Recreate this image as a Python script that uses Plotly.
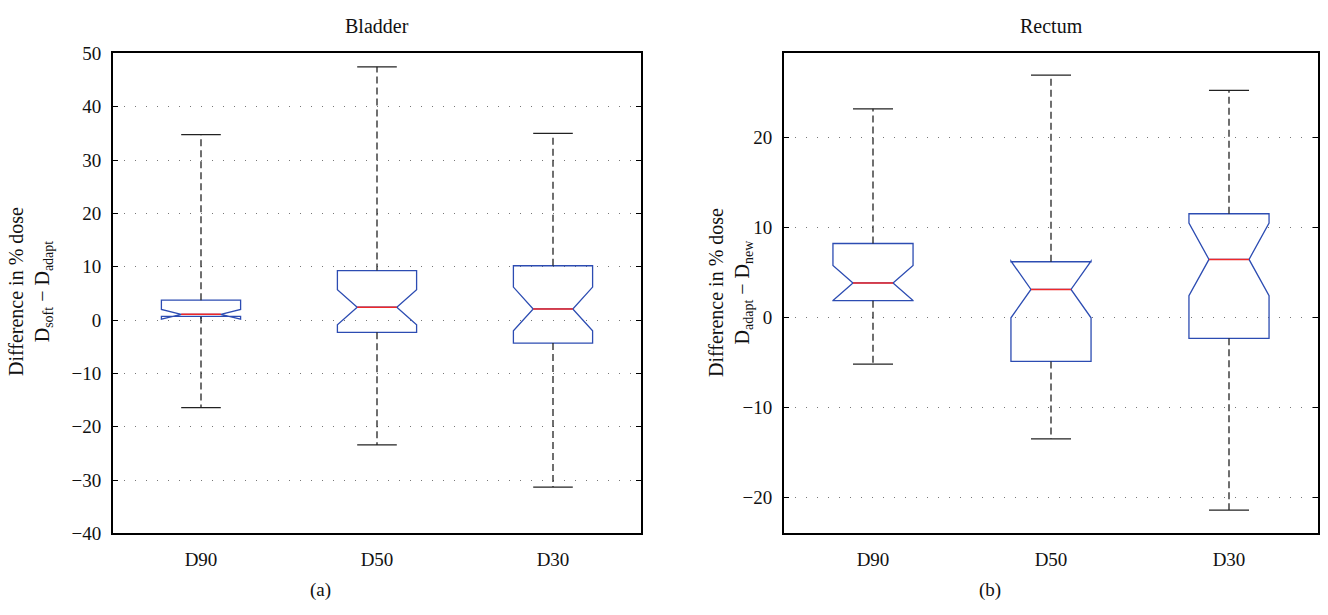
import plotly.graph_objects as go

categories = ["D90", "D50", "D30"]
positions = [1, 2, 3]

# Bladder (a): D_soft - D_adapt
bl_upper = [34.8, 47.5, 35.0]
bl_q3 = [3.74, 9.3, 10.2]
bl_median = [1.1, 2.42, 2.1]
bl_q1 = [0.7, -2.28, -4.3]
bl_lower = [-16.4, -23.4, -31.3]
bl_notch = [0.9, 3.3, 4.1]

# Rectum (b): D_adapt - D_new
re_upper = [23.15, 26.9, 25.2]
re_q3 = [8.2, 6.17, 11.5]
re_median = [3.82, 3.1, 6.43]
re_q1 = [1.85, -4.9, -2.33]
re_lower = [-5.19, -13.5, -21.4]
re_notch = [1.95, 3.15, 4.03]

BLUE = "#2C4CB2"
RED = "#F02828"
BLACK = "#222222"
TXT = "#111111"
FONT = "Liberation Serif"
BOX_W = 0.45
CAP_HALF = BOX_W / 4
MED_HALF = BOX_W / 4

fig = go.Figure()


def add_panel(xa, ya, upper, q3, med, q1, lower, notch):
    fig.add_trace(go.Box(
        x=positions, q1=q1, median=med, q3=q3,
        lowerfence=q1, upperfence=q3, notchspan=notch,
        notched=True, notchwidth=0.25, width=BOX_W, whiskerwidth=0,
        line=dict(color=BLUE, width=1.3), fillcolor="rgba(0,0,0,0)",
        boxpoints=False, hoverinfo="skip", showlegend=False,
        xaxis=xa, yaxis=ya,
    ))
    # whiskers
    wx, wy = [], []
    for p, u, a, b, l in zip(positions, upper, q3, q1, lower):
        wx += [p, p, None, p, p, None]
        wy += [a, u, None, b, l, None]
    fig.add_trace(go.Scatter(
        x=wx, y=wy, mode="lines", line=dict(color=BLACK, width=1.3, dash="7px,4px"),
        hoverinfo="skip", showlegend=False, xaxis=xa, yaxis=ya,
    ))
    # caps
    cx, cy = [], []
    for p, u, l in zip(positions, upper, lower):
        cx += [p - CAP_HALF, p + CAP_HALF, None, p - CAP_HALF, p + CAP_HALF, None]
        cy += [u, u, None, l, l, None]
    fig.add_trace(go.Scatter(
        x=cx, y=cy, mode="lines", line=dict(color=BLACK, width=1.3),
        hoverinfo="skip", showlegend=False, xaxis=xa, yaxis=ya,
    ))
    # medians
    mx, my = [], []
    for p, m in zip(positions, med):
        mx += [p - MED_HALF, p + MED_HALF, None]
        my += [m, m, None]
    fig.add_trace(go.Scatter(
        x=mx, y=my, mode="lines", line=dict(color=RED, width=1.5),
        hoverinfo="skip", showlegend=False, xaxis=xa, yaxis=ya,
    ))


add_panel("x", "y", bl_upper, bl_q3, bl_median, bl_q1, bl_lower, bl_notch)
add_panel("x2", "y2", re_upper, re_q3, re_median, re_q1, re_lower, re_notch)

W, H = 1328, 615
y_dom = [1 - 542 / H, 1 - 45 / H]

xcommon = dict(
    tickmode="array", tickvals=positions, ticktext=categories, range=[0.5, 3.5],
    showgrid=False, zeroline=False, showline=True, linecolor="black", linewidth=2,
    mirror=True, ticks="", ticklabelstandoff=8,
    tickfont=dict(family=FONT, size=19, color=TXT),
)
ycommon = dict(
    showgrid=True, gridcolor="#777777", griddash="1px,10px", gridwidth=1,
    zeroline=False, showline=True, linecolor="black", linewidth=2, mirror="ticks",
    ticks="inside", ticklen=5, tickcolor="black", tickwidth=1, ticklabelstandoff=6,
    tickfont=dict(family=FONT, size=19, color=TXT),
)


def ann(text, x, y, size=19, angle=0):
    return dict(text=text, x=x / W, y=1 - y / H, xref="paper", yref="paper",
                xanchor="center", yanchor="middle", textangle=angle, align="center",
                showarrow=False, font=dict(family=FONT, size=size, color=TXT))


fig.update_layout(
    width=W, height=H,
    margin=dict(l=0, r=0, t=0, b=0),
    paper_bgcolor="white", plot_bgcolor="white",
    boxmode="overlay",
    xaxis=dict(domain=[113 / W, 641 / W], anchor="y", **xcommon),
    yaxis=dict(domain=y_dom, anchor="x", range=[-40, 50], dtick=10, **ycommon),
    xaxis2=dict(domain=[784 / W, 1318 / W], anchor="y2", **xcommon),
    yaxis2=dict(domain=y_dom, anchor="x2", range=[-24, 29.3], tickvals=[-20, -10, 0, 10, 20], **ycommon),
    annotations=[
        ann("Bladder", 377, 17, size=20),
        ann("Rectum", 1051, 17, size=20),
        ann("(a)", 320, 600),
        ann("(b)", 990, 600),
        ann("Difference in % dose<br>D<sub>soft</sub> − D<sub>adapt</sub>", 30, 292, size=20, angle=-90),
        ann("Difference in % dose<br>D<sub>adapt</sub> − D<sub>new</sub>", 730, 292, size=20, angle=-90),
    ],
)

fig.write_html("out.html")
